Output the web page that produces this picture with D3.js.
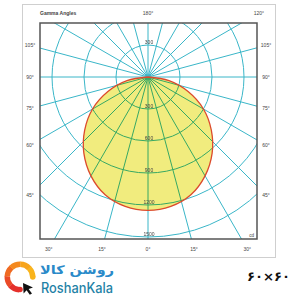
<!DOCTYPE html>
<html lang="en">
<head>
	<meta charset="UTF-8">
	<title>Gamma Angles</title>
<style>
	body { margin: 0; background: #fff; }
	svg { display: block; }
	.lbl { font: 5px "Liberation Sans", sans-serif; fill: #444; text-anchor: middle; }
</style>
</head>
<body>
<svg id="chart" width="300" height="300"></svg>
<script src="https://cdnjs.cloudflare.com/ajax/libs/d3/7.8.5/d3.min.js"></script>
<script type="text/javascript">
	// light distribution, symmetric (cd)
	var gamma = [0, 10, 20, 30, 40, 50, 60, 70, 80, 90];
	var candela = [1250, 1232, 1175, 1070, 935, 775, 600, 400, 200, 0];

	var radialTicks = [300, 600, 900, 1200, 1500];
	var rayAngles = [0, 15, 30, 45, 60, 75, 90, 105, 120, 135, 150, 165,
		180, 195, 210, 225, 240, 255, 270, 285, 300, 315, 330, 345];
	var angleLabels = [-105, -90, -75, -60, -45, -30, -15, 0, 15, 30, 45, 60, 75, 90, 105, 120, 180];

	var svg = d3.select("#chart");

	var cx = 148, cy = 77;
	var box = { x0: 40, y0: 23, x1: 257, y1: 239 };
	var lab = { x0: 30, y0: 13, x1: 266, y1: 249 };

	var r = d3.scaleLinear().domain([0, 1500]).range([0, 160]);
	var rad = function(g) { return g * Math.PI / 180; };

	// outer frame
	svg.append("rect")
		.attr("x", 22.5).attr("y", 4.5)
		.attr("width", 253).attr("height", 253)
		.attr("fill", "none").attr("stroke", "#cfcfcf");

	svg.append("clipPath").attr("id", "clip")
		.append("rect")
		.attr("x", box.x0).attr("y", box.y0)
		.attr("width", box.x1 - box.x0).attr("height", box.y1 - box.y0);

	var inner = svg.append("g").attr("clip-path", "url(#clip)")
		.append("g").attr("transform", "translate(" + cx + "," + cy + ")");

	// distribution curve
	var pts = [];
	for (var i = gamma.length - 1; i > 0; i--) pts.push([-gamma[i], candela[i]]);
	for (var j = 0; j < gamma.length; j++) pts.push([gamma[j], candela[j]]);

	var curve = d3.lineRadial()
		.angle(function(d) { return Math.PI - rad(d[0]); })
		.radius(function(d) { return r(d[1]); })
		.curve(d3.curveCatmullRom);

	inner.append("path")
		.datum(pts)
		.attr("d", curve)
		.attr("fill", "#f1ec7e")
		.attr("stroke", "none");

	var grid = inner.append("g").style("mix-blend-mode", "multiply")
		.attr("stroke", "#3ab6c8").attr("fill", "none").attr("stroke-width", 1);

	grid.selectAll("circle")
		.data(radialTicks)
		.enter().append("circle")
		.attr("r", function(d) { return r(d); });

	grid.selectAll("line")
		.data(rayAngles)
		.enter().append("line")
		.attr("x1", 0).attr("y1", 0)
		.attr("x2", function(d) { return 400 * Math.sin(rad(d)); })
		.attr("y2", function(d) { return 400 * Math.cos(rad(d)); });

	inner.append("path")
		.datum(pts)
		.attr("d", curve)
		.attr("fill", "none")
		.attr("stroke", "#dc4a2c")
		.attr("stroke-width", 1.3);

	// intensity labels, above and below the centre
	inner.selectAll("text.up")
		.data(radialTicks.slice(0, 1))
		.enter().append("text").attr("class", "lbl up")
		.attr("x", 1).attr("y", function(d) { return -r(d) - 1; })
		.text(function(d) { return d; });

	inner.selectAll("text.down")
		.data(radialTicks)
		.enter().append("text").attr("class", "lbl down")
		.attr("x", 1).attr("y", function(d) { return r(d) - 1; })
		.text(function(d) { return d; });

	// inner box
	svg.append("rect")
		.attr("x", box.x0).attr("y", box.y0)
		.attr("width", box.x1 - box.x0).attr("height", box.y1 - box.y0)
		.attr("fill", "none").attr("stroke", "#555").attr("stroke-width", 1.5);

	// angle labels where the rays meet the label frame
	function labelPos(g) {
		var s = Math.sin(rad(g)), c = Math.cos(rad(g));
		var t = Infinity;
		if (s > 1e-6) t = Math.min(t, (lab.x1 - cx) / s);
		if (s < -1e-6) t = Math.min(t, (lab.x0 - cx) / s);
		if (c > 1e-6) t = Math.min(t, (lab.y1 - cy) / c);
		if (c < -1e-6) t = Math.min(t, (lab.y0 - cy) / c);
		return [cx + t * s, cy + t * c];
	}

	svg.selectAll("text.ang")
		.data(angleLabels)
		.enter().append("text").attr("class", "lbl ang")
		.attr("x", function(d) { return labelPos(d)[0]; })
		.attr("y", function(d) { return labelPos(d)[1] + 1.8; })
		.text(function(d) { return Math.abs(d) + "°"; });

	svg.append("text").attr("class", "lbl")
		.attr("x", 40).attr("y", 14.8)
		.style("text-anchor", "start").style("font-weight", "bold")
		.text("Gamma Angles");

	svg.append("text").attr("class", "lbl")
		.attr("x", 254).attr("y", 237)
		.style("text-anchor", "end").style("font-size", "4.5px")
		.text("cd");

	// logo
	var logo = svg.append("g").attr("transform", "translate(20,277)");
	var ringColors = ["#e5302b", "#ea4a27", "#ef6a22", "#f4891e", "#f7a41c", "#f9b41c"];
	var arc = d3.arc().innerRadius(10).outerRadius(15.5);
	var a0 = Math.PI * 1.02, a1 = Math.PI * 2.5;
	var step = (a1 - a0) / ringColors.length;
	logo.selectAll("path.ring")
		.data(ringColors)
		.enter().append("path").attr("class", "ring")
		.attr("d", function(d, k) {
			return arc({ startAngle: a0 + k * step, endAngle: a0 + (k + 1) * step + 0.02 });
		})
		.attr("fill", function(d) { return d; });
	logo.append("circle").attr("cx", 0).attr("cy", 12.45).attr("r", 2.75).attr("fill", "#e5302b");
	logo.append("circle").attr("cx", 12.75).attr("cy", 0).attr("r", 2.75).attr("fill", "#f9b41c");
	logo.append("path")
		.attr("d", "M3,6 L13,10.5 L8.6,12 L12,16.5 L9.8,17.8 L6.6,13.3 L3.6,16.5 Z")
		.attr("fill", "#111");

	svg.append("text")
		.attr("x", 114).attr("y", 274)
		.attr("text-anchor", "end")
		.attr("textLength", 74).attr("lengthAdjust", "spacingAndGlyphs")
		.style("font", "bold 12px 'DejaVu Sans', sans-serif")
		.attr("fill", "#2a8ac9")
		.text("روشن کالا");

	svg.append("text")
		.attr("x", 41).attr("y", 293)
		.attr("textLength", 72).attr("lengthAdjust", "spacingAndGlyphs")
		.style("font", "500 14px Inter, sans-serif")
		.attr("fill", "#1f82a6")
		.text("RoshanKala");

	svg.append("text")
		.attr("x", 247).attr("y", 281)
		.attr("textLength", 43).attr("lengthAdjust", "spacingAndGlyphs")
		.style("font", "bold 13px 'DejaVu Sans', sans-serif")
		.attr("fill", "#111")
		.text("۶۰×۶۰");
</script>
</body>
</html>
